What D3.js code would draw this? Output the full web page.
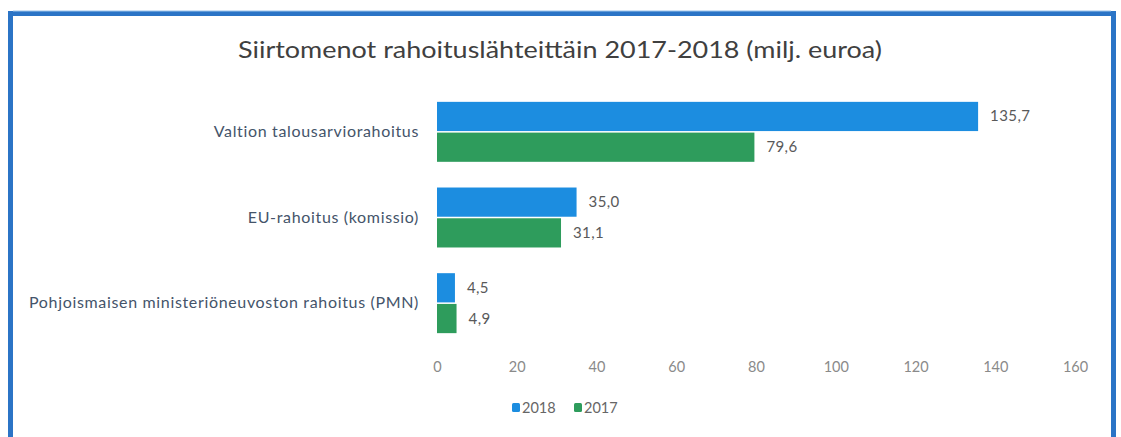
<!DOCTYPE html>
<html><head><meta charset="utf-8">
<script src="https://cdn.jsdelivr.net/npm/d3@7/dist/d3.min.js"></script>
<style>html,body{margin:0;padding:0;background:#fff;}svg{display:block;}</style>
</head><body>
<script>
const categories = ["Valtion talousarviorahoitus", "EU-rahoitus (komissio)", "Pohjoismaisen ministeriöneuvoston rahoitus (PMN)"];
const seriesNames = ["2018", "2017"];
const values2018 = [135.7, 35.0, 4.5];
const values2017 = [79.6, 31.1, 4.9];
const xTicks = [0, 20, 40, 60, 80, 100, 120, 140, 160];
const title = "Siirtomenot rahoituslähteittäin 2017-2018 (milj. euroa)";
const colors = ["#1c8de0", "#2e9c5c"];

const W = 1121, H = 437;
const svg = d3.select("body").append("svg").attr("width", W).attr("height", H);
const font = "Lato, 'Open Sans', sans-serif";

// frame
svg.append("path").attr("d", `M10.5,${H+5} V13.5 H1113.5 V${H+5}`)
  .attr("fill", "none").attr("stroke", "#2b74c6").attr("stroke-width", 5);
svg.append("line").attr("x1", 13).attr("x2", 1111).attr("y1", 11).attr("y2", 11)
  .attr("stroke", "#9cc3ea").attr("stroke-width", 1);

svg.append("text").attr("x", 560).attr("y", 58).attr("text-anchor", "middle")
  .attr("font-family", font).attr("font-size", 23).attr("fill", "#404040")
  .attr("textLength", 644).attr("lengthAdjust", "spacingAndGlyphs")
  .text(title);

const x = d3.scaleLinear().domain([0, 160]).range([437, 1075]);
const y = d3.scaleBand().domain(categories).range([89, 346]).paddingInner(0.3).paddingOuter(0.15);
const yInner = d3.scaleBand().domain(seriesNames).range([0, y.bandwidth()]).paddingInner(0.05);

const data = categories.map((c, i) => ({cat: c, vals: [values2018[i], values2017[i]]}));

const g = svg.append("g");
data.forEach(d => {
  d.vals.forEach((v, j) => {
    const yy = y(d.cat) + yInner(seriesNames[j]);
    g.append("rect").attr("x", x(0)).attr("y", yy)
      .attr("width", x(v) - x(0)).attr("height", yInner.bandwidth())
      .attr("fill", colors[j]);
    g.append("text").attr("x", x(v) + 12).attr("y", yy + yInner.bandwidth() / 2 + 5)
      .attr("font-family", font).attr("font-size", 15).attr("fill", "#595959")
      .attr("letter-spacing", 0.4)
      .text(d3.format(".1f")(v).replace(".", ","));
  });
});

// category labels
const yAxis = d3.axisLeft(y).tickSize(0).tickPadding(18);
const ya = svg.append("g").attr("transform", `translate(${x(0)},0)`).call(yAxis);
ya.select(".domain").remove();
ya.selectAll("text").attr("font-family", font).attr("font-size", 16).attr("fill", "#44546a")
  .attr("letter-spacing", 0.66);

// x axis
const xAxis = d3.axisBottom(x).tickValues(xTicks).tickSize(0).tickPadding(0).tickFormat(d3.format("d"));
const xa = svg.append("g").attr("transform", "translate(0,362)").call(xAxis);
xa.select(".domain").remove();
xa.selectAll("text").attr("font-family", font).attr("font-size", 14.5).attr("fill", "#8a8a8a");

// legend
const legend = svg.append("g");
const lx = [512, 574];
seriesNames.forEach((s, j) => {
  legend.append("rect").attr("x", lx[j]).attr("y", 403).attr("width", 8).attr("height", 9)
    .attr("rx", 1.5).attr("fill", colors[j]);
  legend.append("text").attr("x", lx[j] + 10).attr("y", 413)
    .attr("font-family", font).attr("font-size", 14.5).attr("fill", "#666")
    .text(s);
});
</script>
</body></html>
